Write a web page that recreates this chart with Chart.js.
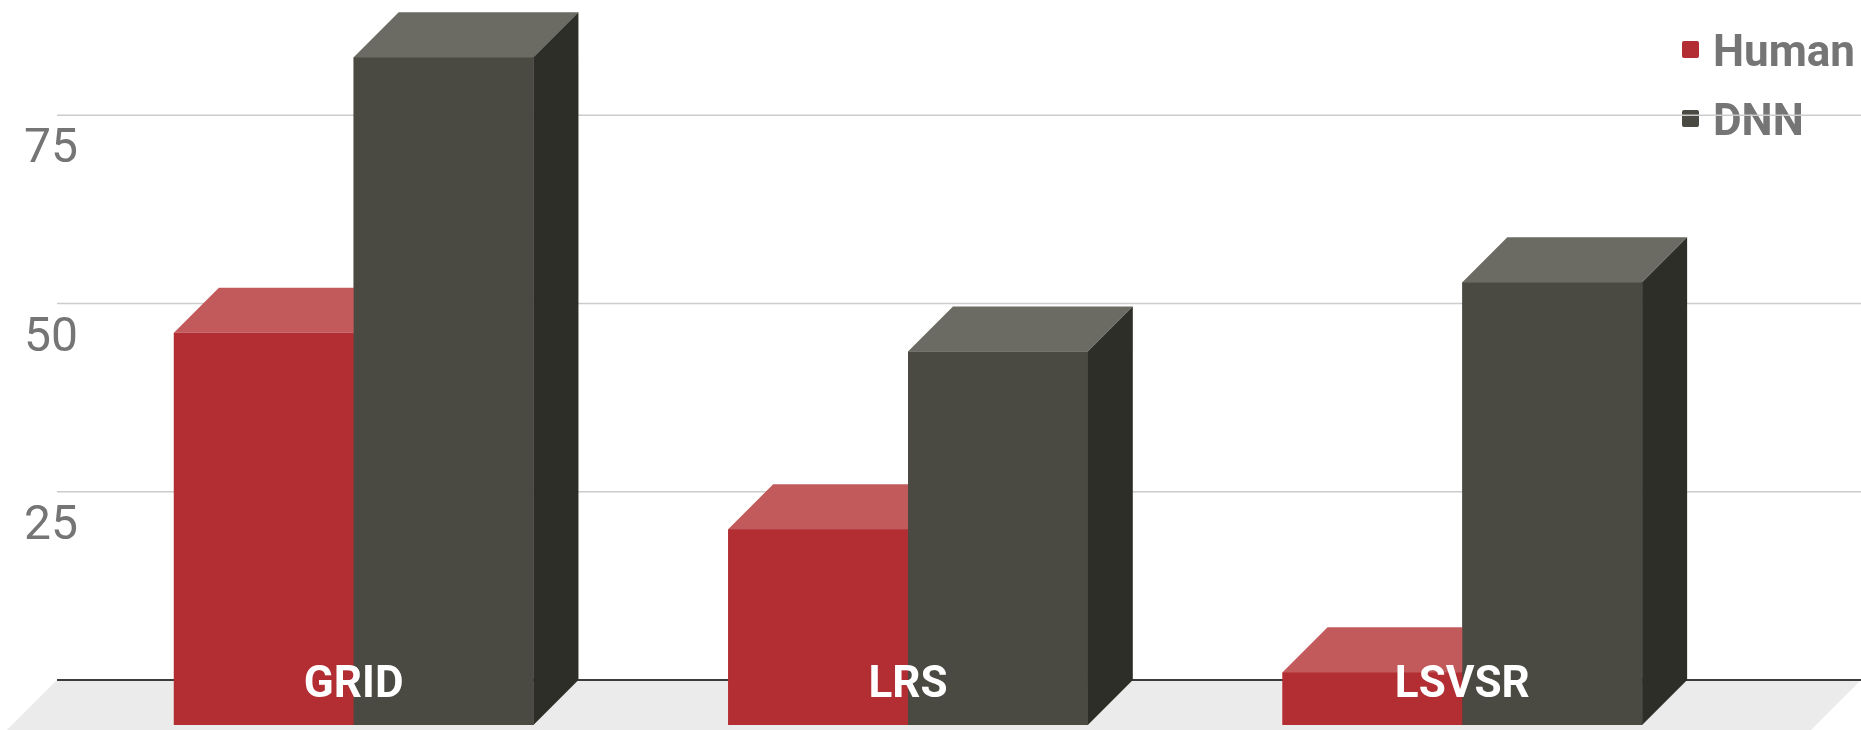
<!DOCTYPE html>
<html>
<head>
<meta charset="utf-8">
<script src="https://cdn.jsdelivr.net/npm/chart.js@4.4.1/dist/chart.umd.min.js"></script>
<style>
  html, body { margin: 0; padding: 0; background: #ffffff; }
  #wrap { width: 1861px; height: 730px; }
</style>
</head>
<body>
<div id="wrap"><canvas id="accuracyChart" width="1861" height="730"></canvas></div>
<script>
// chart values
const categories = ['GRID', 'LRS', 'LSVSR'];
const humanScores = [52.1, 26.0, 7.0];
const dnnScores = [88.7, 49.6, 58.8];
const yTicks = [25, 50, 75];

// look of the fake 3D
const DEPTH = 45;          // how far the back face sits up/right
const WALL_LEFT = 57;      // where the back wall (grid) begins
const LABEL_GREY = '#757575';

// draws one box: front, top, right side
function drawBox(ctx, bar, ds) {
    const p = bar.getProps(['x', 'y', 'base', 'width'], true);
    const l = p.x - p.width / 2, r = p.x + p.width / 2, t = p.y, b = p.base;

    ctx.fillStyle = ds.backgroundColor;
    ctx.fillRect(l, t, r - l, b - t);

    ctx.fillStyle = ds.topColor;
    ctx.beginPath();
    ctx.moveTo(l, t);
    ctx.lineTo(l + DEPTH, t - DEPTH);
    ctx.lineTo(r + DEPTH, t - DEPTH);
    ctx.lineTo(r, t);
    ctx.closePath();
    ctx.fill();

    ctx.fillStyle = ds.sideColor;
    ctx.beginPath();
    ctx.moveTo(r, t);
    ctx.lineTo(r + DEPTH, t - DEPTH);
    ctx.lineTo(r + DEPTH, b - DEPTH);
    ctx.lineTo(r, b);
    ctx.closePath();
    ctx.fill();
}

const fake3d = {
    id: 'fake3d',
    beforeDatasetsDraw(chart) {
        const ctx = chart.ctx;
        const y = chart.scales.y;
        const W = chart.width, H = chart.height;
        const floorY = y.getPixelForValue(0) - DEPTH;

        ctx.save();
        // floor
        ctx.fillStyle = '#ebebeb';
        ctx.beginPath();
        ctx.moveTo(WALL_LEFT, floorY);
        ctx.lineTo(W, floorY);
        ctx.lineTo(W - (H - floorY), H);
        ctx.lineTo(WALL_LEFT - (H - floorY), H);
        ctx.closePath();
        ctx.fill();

        // legend
        ctx.font = 'bold 44px Roboto';
        ctx.textAlign = 'left';
        ctx.textBaseline = 'alphabetic';
        chart.data.datasets.forEach((ds, i) => {
            const base = 66 + i * 69;
            ctx.fillStyle = ds.backgroundColor;
            ctx.beginPath();
            ctx.roundRect(1682, base - 25, 17, 17, 2);
            ctx.fill();
            ctx.fillStyle = LABEL_GREY;
            ctx.fillText(ds.label, 1713, base);
        });

        // grid lines on the back wall
        ctx.strokeStyle = '#cccccc';
        ctx.lineWidth = 1.5;
        y.ticks.forEach(tk => {
            const gy = y.getPixelForValue(tk.value) - DEPTH;
            ctx.beginPath();
            ctx.moveTo(WALL_LEFT, gy);
            ctx.lineTo(W, gy);
            ctx.stroke();
        });
        // zero line
        ctx.strokeStyle = '#3c3c3c';
        ctx.lineWidth = 2;
        ctx.beginPath();
        ctx.moveTo(WALL_LEFT, floorY);
        ctx.lineTo(W, floorY);
        ctx.stroke();

        // y labels sit under their line
        ctx.font = '48px Roboto';
        ctx.fillStyle = LABEL_GREY;
        y.ticks.forEach(tk => {
            const gy = y.getPixelForValue(tk.value) - DEPTH;
            ctx.fillText(String(tk.value), 24, gy + 47);
        });
        ctx.restore();
    },
    afterDatasetsDraw(chart) {
        const ctx = chart.ctx;
        const x = chart.scales.x;
        ctx.save();
        // draw box by box so the right bar hides the left one's side
        categories.forEach((c, j) => {
            chart.data.datasets.forEach((ds, i) => {
                drawBox(ctx, chart.getDatasetMeta(i).data[j], ds);
            });
        });
        // category names inside the bars
        ctx.font = 'bold 44px Roboto';
        ctx.fillStyle = '#ffffff';
        ctx.textAlign = 'center';
        ctx.textBaseline = 'alphabetic';
        const base = chart.scales.y.getPixelForValue(0);
        categories.forEach((c, j) => {
            ctx.fillText(c, x.getPixelForValue(j), base - 28);
        });
        ctx.restore();
    }
};

const ctx = document.getElementById('accuracyChart').getContext('2d');
new Chart(ctx, {
    type: 'bar',
    data: {
        labels: categories,
        datasets: [
            {
                label: 'Human',
                data: humanScores,
                backgroundColor: '#b22e33',
                topColor: '#c25a5c',
                sideColor: '#8a2226',
                categoryPercentage: 0.6487,
                barPercentage: 1.0
            },
            {
                label: 'DNN',
                data: dnnScores,
                backgroundColor: '#4a4a42',
                topColor: '#6b6b63',
                sideColor: '#2e2e28',
                categoryPercentage: 0.6487,
                barPercentage: 1.0
            }
        ]
    },
    options: {
        responsive: false,
        animation: false,
        layout: { padding: { left: 76.5, right: 121.5, top: 0, bottom: 5 } },
        scales: {
            x: { display: false, offset: true },
            y: {
                display: false,
                min: 0,
                max: 96.3,
                afterBuildTicks: scale => {
                    scale.ticks = yTicks.map(v => ({ value: v }));
                }
            }
        },
        plugins: {
            legend: { display: false },
            tooltip: { enabled: false }
        }
    },
    plugins: [fake3d]
});
</script>
</body>
</html>
